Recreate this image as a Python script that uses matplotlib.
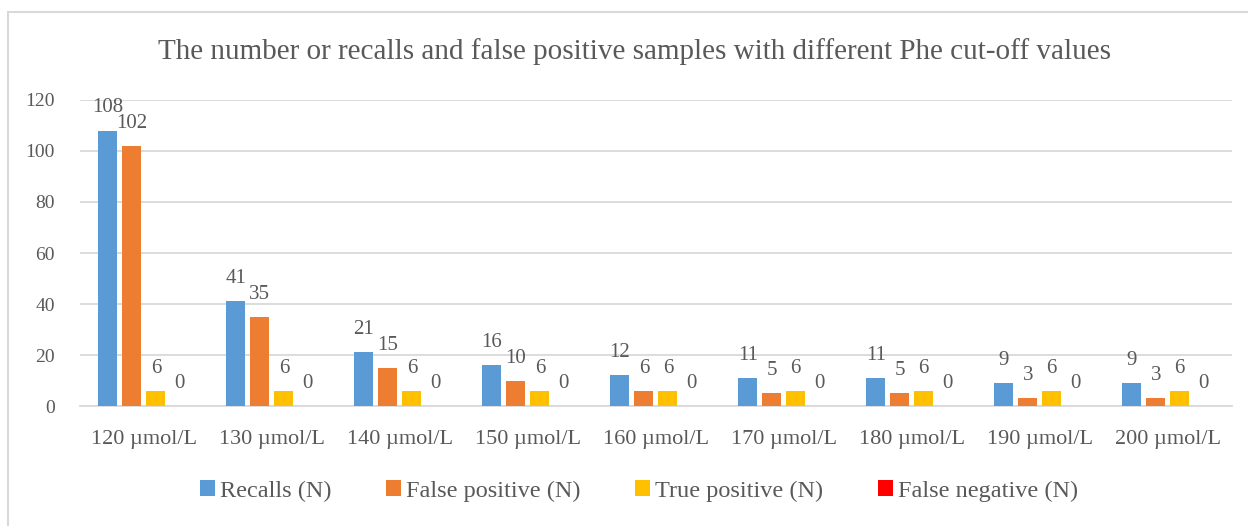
import numpy as np
import matplotlib.pyplot as plt
from matplotlib.patches import Rectangle

# data
categories = ["120 µmol/L", "130 µmol/L", "140 µmol/L", "150 µmol/L", "160 µmol/L",
              "170 µmol/L", "180 µmol/L", "190 µmol/L", "200 µmol/L"]
recalls = [108, 41, 21, 16, 12, 11, 11, 9, 9]
false_pos = [102, 35, 15, 10, 6, 5, 5, 3, 3]
true_pos = [6, 6, 6, 6, 6, 6, 6, 6, 6]
false_neg = [0, 0, 0, 0, 0, 0, 0, 0, 0]

series = [
    ("Recalls (N)", recalls, "#5B9BD5"),
    ("False positive (N)", false_pos, "#ED7D31"),
    ("True positive (N)", true_pos, "#FFC000"),
    ("False negative (N)", false_neg, "#FF0000"),
]

TXT = "#595959"
plt.rcParams["font.family"] = ["Liberation Serif", "DejaVu Serif"]

fig = plt.figure(figsize=(12.48, 5.26), dpi=100)
ax = fig.add_axes([0.064, 0.228, 0.923, 0.582])

# outer chart border
fig.patches.append(Rectangle((8 / 1248, -0.1), 1.2, 1 - 12 / 526 + 0.1,
                             transform=fig.transFigure, fill=False,
                             edgecolor="#D9D9D9", linewidth=1.5))

x = np.arange(len(categories))
step = 24 / 128
width = 19 / 128
for i, (name, vals, col) in enumerate(series):
    pos = x + (i - 1.5) * step
    ax.bar(pos, vals, width=width, color=col, label=name, zorder=3)
    for px, v in zip(pos, vals):
        ax.annotate(str(v), (px, v), xytext=(0, 13), textcoords="offset points",
                    ha="center", va="baseline", fontsize=15, color=TXT)

ax.set_xlim(-0.5, len(categories) - 0.5)
ax.set_ylim(0, 120)
ax.set_yticks(range(0, 121, 20))
ax.grid(axis="y", color="#D9D9D9", linewidth=1.3, zorder=0)
for s in ["top", "right", "left"]:
    ax.spines[s].set_visible(False)
ax.spines["bottom"].set_color("#D9D9D9")
ax.spines["bottom"].set_linewidth(1.3)
ax.set_xticks(x)
ax.set_xticklabels(categories)
ax.tick_params(axis="both", length=0, labelcolor=TXT)
ax.tick_params(axis="x", pad=17, labelsize=16)
ax.tick_params(axis="y", pad=18, labelsize=14)

fig.text(635 / 1248, 1 - 52 / 526, "The number or recalls and false positive samples with different Phe cut-off values",
         ha="center", va="center", fontsize=21, color=TXT)

fig.legend(loc="center", bbox_to_anchor=(639 / 1248, 1 - 491 / 526), ncol=4,
           frameon=False, fontsize=17.5, labelcolor=TXT, handlelength=0.62,
           handleheight=0.62, handletextpad=0.2, columnspacing=2.25)

fig.savefig("out.png", dpi=100)
